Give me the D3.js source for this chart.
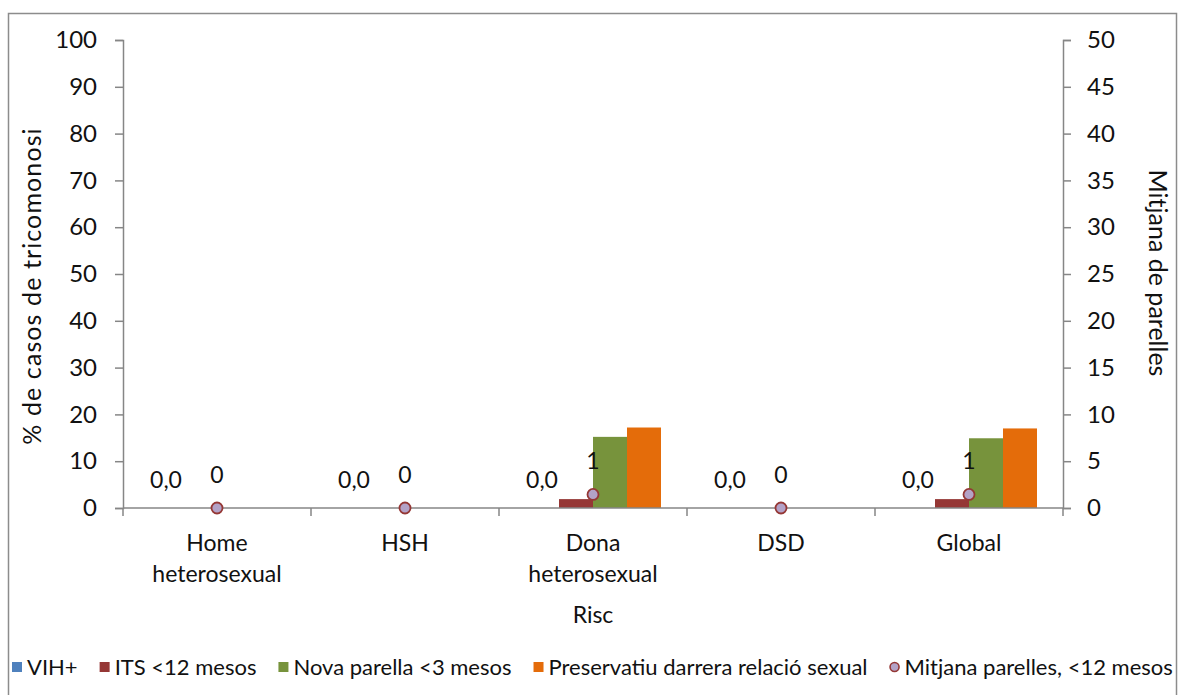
<!DOCTYPE html>
<html>
<head>
<meta charset="utf-8">
<script src="https://cdn.jsdelivr.net/npm/d3@7"></script>
<style>
  html, body { margin: 0; padding: 0; background: #fff; }
  svg { display: block; font-family: Lato, "Open Sans", sans-serif; }
</style>
</head>
<body>
<svg id="chart" width="1178" height="695"></svg>
<script>
// Risk groups on the category axis
const categories = ["Home heterosexual", "HSH", "Dona heterosexual", "DSD", "Global"];

// Bar series (% of trichomoniasis cases)
const vih = [0, 0, 0, 0, 0];
const its12 = [0, 0, 1.9, 0, 1.9];
const novaParella3 = [0, 0, 15.2, 0, 14.9];
const preservatiu = [0, 0, 17.2, 0, 17.0];

// Marker series on the secondary axis (mean partners, last 12 months)
const mitjanaParelles = [0, 0, 1.45, 0, 1.45];

const leftTicks = [0, 10, 20, 30, 40, 50, 60, 70, 80, 90, 100];
const rightTicks = [0, 5, 10, 15, 20, 25, 30, 35, 40, 45, 50];

const series = [
  { name: "VIH+", values: vih, color: "#4F81BD", labelled: true },
  { name: "ITS <12 mesos", values: its12, color: "#953735", labelled: false },
  { name: "Nova parella <3 mesos", values: novaParella3, color: "#77933C", labelled: false },
  { name: "Preservatiu darrera relació sexual", values: preservatiu, color: "#E46C0A", labelled: false }
];
const pointSeries = { name: "Mitjana parelles, <12 mesos", values: mitjanaParelles, fill: "#B3A2C7", stroke: "#953735" };

const svg = d3.select("#chart");
const plot = { left: 123, right: 1063, top: 40, bottom: 508 };
const axisColor = "#868686";
const textColor = "#111";
const fontSize = 23;

const cat = d3.formatLocale({ decimal: ",", thousands: ".", grouping: [3], currency: ["", "€"] });
const fmt1 = cat.format(".1f");
const fmt0 = cat.format(".0f");

// Outer frame
svg.append("rect")
  .attr("x", 8.5).attr("y", 13.5)
  .attr("width", 1168).attr("height", 700)
  .attr("fill", "none").attr("stroke", "#8c8c8c").attr("stroke-width", 1.5);

const x0 = d3.scaleBand().domain(categories).range([plot.left, plot.right]).paddingInner(0).paddingOuter(0);
const x1 = d3.scaleBand().domain(series.map(s => s.name))
  .range([0, x0.bandwidth()]).paddingInner(0).paddingOuter(0.765);
const yL = d3.scaleLinear().domain([0, 100]).range([plot.bottom, plot.top]);
const yR = d3.scaleLinear().domain([0, 50]).range([plot.bottom, plot.top]);

// Left axis
const gL = svg.append("g").attr("transform", `translate(${plot.left},0)`)
  .call(d3.axisLeft(yL).tickValues(leftTicks).tickSize(8).tickPadding(18).tickFormat(d3.format("d")));
// Right axis
const gR = svg.append("g").attr("transform", `translate(${plot.right},0)`)
  .call(d3.axisRight(yR).tickValues(rightTicks).tickSize(8).tickPadding(16).tickFormat(d3.format("d")));
[gL, gR].forEach(g => {
  g.select(".domain").attr("stroke", axisColor).attr("stroke-width", 1.5);
  g.selectAll(".tick line").attr("stroke", axisColor).attr("stroke-width", 1.5);
  g.selectAll(".tick text").attr("font-size", 24).attr("fill", textColor)
    .attr("font-family", "Lato, sans-serif");
});

// Bars
series.forEach(s => {
  svg.append("g").selectAll("rect")
    .data(categories.map((c, i) => ({ c, v: s.values[i] })))
    .join("rect")
    .attr("x", d => x0(d.c) + x1(s.name))
    .attr("width", x1.bandwidth())
    .attr("y", d => yL(d.v))
    .attr("height", d => yL(0) - yL(d.v))
    .attr("fill", s.color);
  if (s.labelled) {
    svg.append("g").selectAll("text")
      .data(categories.map((c, i) => ({ c, v: s.values[i] })))
      .join("text")
      .attr("x", d => x0(d.c) + x1(s.name) + x1.bandwidth() / 2)
      .attr("y", d => yL(d.v) - 20)
      .attr("text-anchor", "middle")
      .attr("font-size", fontSize)
      .attr("fill", textColor)
      .text(d => fmt1(d.v));
  }
});

// Category axis (bottom)
const gX = svg.append("g").attr("transform", `translate(0,${plot.bottom})`);
gX.append("line").attr("x1", plot.left).attr("x2", plot.right)
  .attr("stroke", axisColor).attr("stroke-width", 1.5);
const bounds = categories.map(c => x0(c)).concat([plot.right]);
gX.selectAll("line.tick").data(bounds).join("line").attr("class", "tick")
  .attr("x1", d => d).attr("x2", d => d).attr("y1", 0).attr("y2", 8)
  .attr("stroke", axisColor).attr("stroke-width", 1.5);
gX.selectAll("text.cat").data(categories).join("text").attr("class", "cat")
  .attr("x", c => x0(c) + x0.bandwidth() / 2)
  .attr("y", 43)
  .attr("text-anchor", "middle")
  .attr("font-size", fontSize)
  .attr("fill", textColor)
  .each(function (c) {
    const words = c.split(" ");
    d3.select(this).selectAll("tspan").data(words).join("tspan")
      .attr("x", x0(c) + x0.bandwidth() / 2)
      .attr("dy", (w, i) => i === 0 ? 0 : 31)
      .text(w => w);
  });

// Point series on secondary axis
svg.append("g").selectAll("circle")
  .data(categories.map((c, i) => ({ c, v: pointSeries.values[i] })))
  .join("circle")
  .attr("cx", d => x0(d.c) + x0.bandwidth() / 2)
  .attr("cy", d => yR(d.v))
  .attr("r", 5.5)
  .attr("fill", pointSeries.fill)
  .attr("stroke", pointSeries.stroke)
  .attr("stroke-width", 1.8);
svg.append("g").selectAll("text")
  .data(categories.map((c, i) => ({ c, v: pointSeries.values[i] })))
  .join("text")
  .attr("x", d => x0(d.c) + x0.bandwidth() / 2)
  .attr("y", d => yR(d.v) - 25)
  .attr("text-anchor", "middle")
  .attr("font-size", fontSize)
  .attr("fill", textColor)
  .text(d => fmt0(d.v));

// Axis titles
svg.append("text")
  .attr("transform", `translate(41,286) rotate(-90)`)
  .attr("text-anchor", "middle").attr("font-size", 25).attr("letter-spacing", 1.1).attr("fill", textColor)
  .text("% de casos de tricomonosi");
svg.append("text")
  .attr("transform", `translate(1149,273) rotate(90)`)
  .attr("text-anchor", "middle").attr("font-size", 25).attr("fill", textColor)
  .text("Mitjana de parelles");
svg.append("text")
  .attr("x", (plot.left + plot.right) / 2).attr("y", 623)
  .attr("text-anchor", "middle").attr("font-size", fontSize).attr("fill", textColor)
  .text("Risc");

// Legend
const legend = svg.append("g").attr("transform", "translate(12,667)");
const legendItems = series.map(s => ({ name: s.name, color: s.color, type: "rect" }))
  .concat([{ name: pointSeries.name, type: "circle" }]);
let lx = 0;
legendItems.forEach(item => {
  const g = legend.append("g").attr("transform", `translate(${lx},0)`);
  if (item.type === "rect") {
    g.append("rect").attr("x", 0).attr("y", -5).attr("width", 10).attr("height", 10).attr("fill", item.color);
  } else {
    g.append("circle").attr("cx", 5).attr("cy", 0).attr("r", 4.5)
      .attr("fill", pointSeries.fill).attr("stroke", pointSeries.stroke).attr("stroke-width", 1.6);
  }
  const t = g.append("text").attr("x", 15).attr("y", 8)
    .attr("font-size", 22).attr("fill", textColor).text(item.name);
  lx += 15 + t.node().getComputedTextLength() + 22;
});
</script>
</body>
</html>
